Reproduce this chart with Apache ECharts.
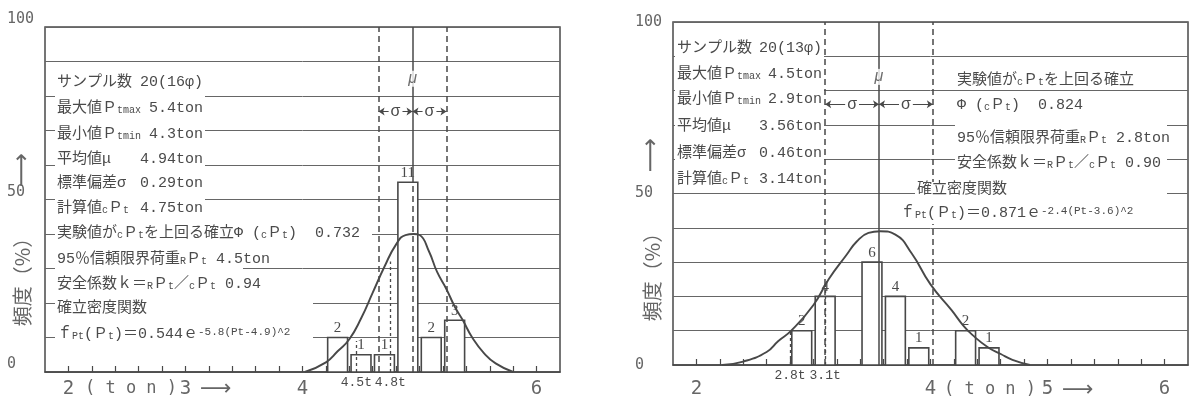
<!DOCTYPE html>
<html>
<head>
<meta charset="utf-8">
<script src="https://cdn.jsdelivr.net/npm/echarts@6/dist/echarts.min.js"></script>
<style>
html, body { margin: 0; background: #fff; }
#main { width: 1189px; height: 401px; }
</style>
</head>
<body>
<div id="main"></div>
<script>
var chartDom = document.getElementById('main');
var myChart = echarts.init(chartDom);
var option;

// axis ticks / labels
var xTickValues = [2, 2.2, 2.4, 2.6, 2.8, 3, 3.2, 3.4, 3.6, 3.8, 4, 4.2, 4.4, 4.6, 4.8, 5, 5.2, 5.4, 5.6, 5.8, 6];
var leftXLabels = [2, 3, 4, 6];
var rightXLabels = [2, 4, 5, 6];
var yLabelValues = [0, 50, 100];

// left panel (16φ): histogram bins, percentages, counts
var leftBins = [4.2, 4.4, 4.6, 4.8, 5.0, 5.2];
var leftPct = [10, 5, 5, 55, 10, 15];
var leftCounts = [2, 1, 1, 11, 2, 3];
var leftCurveX = [4.02, 4.2, 4.3, 4.4, 4.5, 4.6, 4.7, 4.8, 4.88, 4.95, 5.0, 5.08, 5.15, 5.23, 5.3, 5.37, 5.45, 5.55, 5.65, 5.8];
var leftCurveY = [0, 2.8, 6, 9.5, 15.5, 23, 30.5, 37, 39.7, 40, 39.7, 35, 29, 24, 19, 15, 10, 5.5, 2.5, 0];
var leftMu = 4.94;
var leftSigma = 0.29;
var leftMarkX = [4.46, 4.75];
var leftMarkTop = [9, 32];
var leftMarkNames = ['4.5t', '4.8t'];
var leftStatNames = ['サンプル数', '最大値Ｐ{s|tmax}', '最小値Ｐ{s|tmin}', '平均値μ', '標準偏差σ', '計算値{s|c}Ｐ{s|t}'];
var leftStatValues = ['20(16φ)', '5.4ton', '4.3ton', '4.94ton', '0.29ton', '4.75ton'];

// right panel (13φ)
var rightBins = [2.8, 3.0, 3.4, 3.6, 3.8, 4.2, 4.4];
var rightPct = [10, 20, 30, 20, 5, 10, 5];
var rightCounts = [2, 4, 6, 4, 1, 2, 1];
var rightCurveX = [2.22, 2.4, 2.6, 2.7, 2.81, 3.0, 3.13, 3.28, 3.37, 3.47, 3.57, 3.7, 3.84, 4.0, 4.18, 4.28, 4.36, 4.49, 4.6, 4.7, 4.85];
var rightCurveY = [0, 1, 3.8, 7, 10, 17.5, 25, 32, 36, 38.5, 39, 38, 32.5, 23.5, 16, 11.5, 8.7, 5.2, 3.2, 1.5, 0];
var rightMu = 3.56;
var rightSigma = 0.46;
var rightMarkX = [2.8, 3.1];
var rightMarkTop = [10, 24];
var rightMarkNames = ['2.8t', '3.1t'];
var rightStatNames = leftStatNames;
var rightStatValues = ['20(13φ)', '4.5ton', '2.9ton', '3.56ton', '0.46ton', '3.14ton'];

var lineColor = '#484848';
var textColor = '#4a4a4a';
var axisTextColor = '#666';
var tableFont = '"Liberation Mono", "Noto Sans CJK JP", monospace';
var binWidth = 0.2;
var binInset = 0.015;

var rich = {
  s: { fontSize: 10, fontFamily: tableFont, fill: textColor, verticalAlign: 'bottom' },
  u: { fontSize: 11, fontFamily: tableFont, fill: textColor, verticalAlign: 'top' }
};

function pairs(xs, ys) {
  return xs.map(function (x, i) { return [x, ys[i]]; });
}

function histItem(params, api) {
  var x0 = api.value(0);
  var h = api.value(1);
  var p0 = api.coord([x0 + binInset, h]);
  var p1 = api.coord([x0 + binWidth - binInset, 0]);
  return {
    type: 'group',
    children: [
      {
        type: 'rect',
        shape: { x: p0[0], y: p0[1], width: p1[0] - p0[0], height: p1[1] - p0[1] },
        style: { fill: '#fff', stroke: lineColor, lineWidth: 1.6 }
      },
      {
        type: 'text',
        x: (p0[0] + p1[0]) / 2,
        y: p0[1] - 2,
        style: {
          text: String(api.value(2)),
          align: 'center',
          verticalAlign: 'bottom',
          fontSize: 15,
          fontFamily: '"Liberation Serif", serif',
          fill: textColor
        }
      }
    ]
  };
}

var solid = { type: 'solid', color: lineColor, width: 1.5 };
var dashed = { type: [6, 4], color: lineColor, width: 1.5 };
var dotted = { type: [3, 3], color: lineColor, width: 1.3 };

function dim(x0, x1, y) {
  return [
    {
      coord: [x0, y], symbol: 'arrow', symbolSize: 6,
      lineStyle: { type: 'solid', color: lineColor, width: 1 },
      label: {
        show: true, position: 'insideMiddle', formatter: 'σ',
        color: textColor, fontSize: 16, backgroundColor: '#fff', padding: [0, 2]
      }
    },
    { coord: [x1, y], symbol: 'arrow', symbolSize: 6 }
  ];
}

function guides(mu, sigma, muSolidFrom, sigmaY, markX, markTop, markNames) {
  var data = [
    { xAxis: mu - sigma, lineStyle: dashed },
    { xAxis: mu + sigma, lineStyle: dashed },
    [{ coord: [mu, muSolidFrom], lineStyle: solid }, { coord: [mu, 100] }],
    dim(mu - sigma, mu, sigmaY),
    dim(mu, mu + sigma, sigmaY)
  ];
  if (muSolidFrom > 0) {
    data.push([{ coord: [mu, 0], lineStyle: dashed }, { coord: [mu, muSolidFrom] }]);
  }
  markX.forEach(function (x, i) {
    data.push([
      {
        coord: [x, 0], lineStyle: dotted,
        label: {
          show: true, position: 'start', formatter: markNames[i], distance: 4,
          color: textColor, fontSize: 13, fontFamily: '"Liberation Mono", monospace'
        }
      },
      { coord: [x, markTop[i]] }
    ]);
  });
  return { silent: true, symbol: 'none', animation: false, label: { show: false }, data: data };
}

function xAxisFor(gridIndex, labels, margin) {
  return {
    gridIndex: gridIndex, type: 'value', min: 1.8, max: 6.2,
    axisLine: { show: true, lineStyle: { color: lineColor, width: 1.5 } },
    axisTick: { show: true, inside: true, length: 6, customValues: xTickValues, lineStyle: { color: lineColor, width: 1.2 } },
    axisLabel: { customValues: labels, margin: margin, color: axisTextColor, fontSize: 19, fontFamily: '"DejaVu Sans Mono", monospace' },
    splitLine: { show: false }
  };
}

function yAxisFor(gridIndex, margin, vAlign) {
  return {
    gridIndex: gridIndex, type: 'value', min: 0, max: 100, interval: 10,
    axisLine: { show: false },
    axisTick: { show: false },
    axisLabel: { customValues: yLabelValues, align: 'left', verticalAlign: vAlign, margin: margin, color: axisTextColor, fontSize: 15, fontFamily: '"DejaVu Sans Mono", monospace' },
    splitLine: { show: true, lineStyle: { color: '#666', width: 1 } }
  };
}

function text(x, y, str, align, extra) {
  var style = {
    text: str, align: align || 'left', verticalAlign: 'middle',
    fontSize: 15, fontFamily: tableFont, fill: textColor, rich: rich
  };
  if (extra) { for (var k in extra) { style[k] = extra[k]; } }
  return { type: 'text', x: x, y: y, z: 11, style: style };
}

function blank(x, y, w, h) {
  return { type: 'rect', z: 10, shape: { x: x, y: y, width: w, height: h }, style: { fill: '#fff' } };
}

var graphics = [];
// left upper stats
var leftRows = [82, 108, 134, 159, 183, 208];
graphics.push(blank(55, 68, 150, 154));
leftRows.forEach(function (y, i) {
  graphics.push(text(57, y, leftStatNames[i]));
  graphics.push(text(203, y, leftStatValues[i], 'right'));
});
// left lower block
graphics.push(blank(55, 220, 317, 26));
graphics.push(blank(55, 246, 188, 26));
graphics.push(blank(55, 272, 215, 24));
graphics.push(blank(55, 296, 258, 50));
graphics.push(text(57, 233, '実験値が{s|c}Ｐ{s|t}を上回る確立Φ ({s|c}Ｐ{s|t})  0.732'));
graphics.push(text(57, 259, '95％信頼限界荷重{s|R}Ｐ{s|t} 4.5ton'));
graphics.push(text(57, 284, '安全係数ｋ＝{s|R}Ｐ{s|t}／{s|c}Ｐ{s|t} 0.94'));
graphics.push(text(57, 308, '確立密度関数'));
graphics.push(text(57, 334, 'ｆ{s|Pt}(Ｐ{s|t})＝0.544ｅ{u|-5.8(Pt-4.9)^2}'));

// right upper stats
var rightRows = [48, 74, 99, 126, 153, 179];
graphics.push(blank(675, 35, 149, 157));
rightRows.forEach(function (y, i) {
  graphics.push(text(677, y, rightStatNames[i]));
  graphics.push(text(822, y, rightStatValues[i], 'right'));
});
// right side block
graphics.push(blank(955, 123, 212, 28));
graphics.push(blank(955, 154, 212, 18));
graphics.push(blank(915, 182, 252, 20));
graphics.push(blank(898, 202, 269, 22));
graphics.push(text(957, 80, '実験値が{s|c}Ｐ{s|t}を上回る確立'));
graphics.push(text(957, 105, 'Φ ({s|c}Ｐ{s|t})  0.824'));
graphics.push(text(957, 138, '95％信頼限界荷重{s|R}Ｐ{s|t} 2.8ton'));
graphics.push(text(957, 163, '安全係数ｋ＝{s|R}Ｐ{s|t}／{s|c}Ｐ{s|t} 0.90'));
graphics.push(text(917, 189, '確立密度関数'));
graphics.push(text(900, 213, 'ｆ{s|Pt}(Ｐ{s|t})＝0.871ｅ{u|-2.4(Pt-3.6)^2}'));

// axis names
[[22, 277, 23, 170], [652, 272, 652, 155]].forEach(function (p) {
  graphics.push({ type: 'text', x: p[0], y: p[1], rotation: Math.PI / 2, z: 11,
    style: { text: '頻度（%）', align: 'center', verticalAlign: 'middle', fontSize: 20, fontFamily: '"Noto Sans CJK JP"', fill: axisTextColor } });
  graphics.push({ type: 'text', x: p[2], y: p[3], rotation: Math.PI / 2, z: 11,
    style: { text: '⟶', align: 'center', verticalAlign: 'middle', fontSize: 24, fontFamily: '"DejaVu Sans"', fill: axisTextColor } });
});
graphics.push({ type: 'text', x: 131, y: 389, z: 11, style: { text: '( t o n )', align: 'center', verticalAlign: 'middle', fontSize: 17, fontFamily: '"DejaVu Sans Mono", monospace', fill: axisTextColor } });
graphics.push({ type: 'text', x: 200, y: 389, z: 11, style: { text: '⟶', align: 'left', verticalAlign: 'middle', fontSize: 22, fontFamily: '"DejaVu Sans"', fill: axisTextColor } });
graphics.push({ type: 'text', x: 990, y: 390, z: 11, style: { text: '( t o n )', align: 'center', verticalAlign: 'middle', fontSize: 17, fontFamily: '"DejaVu Sans Mono", monospace', fill: axisTextColor } });
graphics.push({ type: 'text', x: 1062, y: 390, z: 11, style: { text: '⟶', align: 'left', verticalAlign: 'middle', fontSize: 22, fontFamily: '"DejaVu Sans"', fill: axisTextColor } });

function muLabel(xi, mu, y) {
  return {
    type: 'scatter', xAxisIndex: xi, yAxisIndex: xi, z: 6, silent: true,
    data: [[mu, y]], symbol: 'rect', symbolSize: [14, 16],
    itemStyle: { color: '#fff' },
    label: { show: true, position: 'inside', formatter: 'μ', color: textColor, fontSize: 16, fontStyle: 'italic' }
  };
}

option = {
  animation: false,
  backgroundColor: '#fff',
  grid: [
    { left: 45, top: 27, width: 515, height: 345, show: true, borderColor: lineColor, borderWidth: 1.5, backgroundColor: 'transparent' },
    { left: 673, top: 22, width: 515, height: 343, show: true, borderColor: lineColor, borderWidth: 1.5, backgroundColor: 'transparent' }
  ],
  xAxis: [xAxisFor(0, leftXLabels, 8), xAxisFor(1, rightXLabels, 15)],
  yAxis: [yAxisFor(0, 38, 'bottom'), yAxisFor(1, 38, 'middle')],
  graphic: { elements: graphics },
  series: [
    {
      type: 'custom', xAxisIndex: 0, yAxisIndex: 0, z: 2,
      renderItem: histItem, encode: { x: 0, y: 1 },
      data: leftBins.map(function (b, i) { return [b, leftPct[i], leftCounts[i]]; })
    },
    {
      type: 'line', xAxisIndex: 0, yAxisIndex: 0, z: 4, smooth: true, showSymbol: false, silent: true,
      lineStyle: { color: lineColor, width: 1.9 },
      data: pairs(leftCurveX, leftCurveY),
      markLine: guides(leftMu, leftSigma, 55, 75.5, leftMarkX, leftMarkTop, leftMarkNames)
    },
    muLabel(0, leftMu, 85),
    {
      type: 'custom', xAxisIndex: 1, yAxisIndex: 1, z: 2,
      renderItem: histItem, encode: { x: 0, y: 1 },
      data: rightBins.map(function (b, i) { return [b, rightPct[i], rightCounts[i]]; })
    },
    {
      type: 'line', xAxisIndex: 1, yAxisIndex: 1, z: 4, smooth: true, showSymbol: false, silent: true,
      lineStyle: { color: lineColor, width: 1.9 },
      data: pairs(rightCurveX, rightCurveY),
      markLine: guides(rightMu, rightSigma, 0, 76, rightMarkX, rightMarkTop, rightMarkNames)
    },
    muLabel(1, rightMu, 84)
  ]
};

option && myChart.setOption(option);
</script>
</body>
</html>
